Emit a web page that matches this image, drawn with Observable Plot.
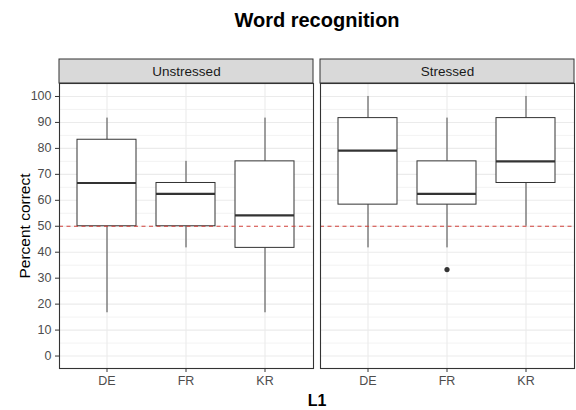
<!DOCTYPE html>
<html>
<head>
<meta charset="utf-8">
<script src="https://cdn.jsdelivr.net/npm/d3@7"></script>
<script src="https://cdn.jsdelivr.net/npm/@observablehq/plot@0.6"></script>
<style>
  html, body { margin: 0; padding: 0; background: #fff; }
  body { width: 576px; height: 410px; overflow: hidden; font-family: "Liberation Sans", Arial, sans-serif; }
  #title { height: 45px; box-sizing: border-box; padding-left: 58px; text-align: center; font-weight: bold; font-size: 20px; line-height: 41px; color: #000; }
  #xlabel { height: 18px; padding-left: 58px; text-align: center; font-weight: bold; font-size: 16px; line-height: 17px; color: #000; }
  svg { display: block; }
</style>
</head>
<body>
<div id="title">Word recognition</div>
<div id="chart"></div>
<div id="xlabel">L1</div>
<script>
// ---- data ----
const conditions = ["Unstressed", "Stressed"];
const groups = ["DE", "FR", "KR"];
const boxCondition = ["Unstressed", "Unstressed", "Unstressed", "Stressed", "Stressed", "Stressed"];
const boxGroup = ["DE", "FR", "KR", "DE", "FR", "KR"];
const lowerWhisker = [16.67, 41.67, 16.67, 41.67, 41.67, 50];
const q1 = [50, 50, 41.67, 58.33, 58.33, 66.67];
const median = [66.67, 62.5, 54.17, 79.17, 62.5, 75];
const q3 = [83.33, 66.67, 75, 91.67, 75, 91.67];
const upperWhisker = [91.67, 75, 91.67, 100, 91.67, 100];
const outlierCondition = ["Stressed"];
const outlierGroup = ["FR"];
const outlierValue = [33.33];
const chanceLevel = [50];
const yTicks = [0, 10, 20, 30, 40, 50, 60, 70, 80, 90, 100];
const yMinorTicks = [5, 15, 25, 35, 45, 55, 65, 75, 85, 95];

const boxes = boxGroup.map((g, i) => ({
  cond: boxCondition[i], L1: g,
  lo: lowerWhisker[i], q1: q1[i], med: median[i], q3: q3[i], hi: upperWhisker[i]
}));
const outliers = outlierGroup.map((g, i) => ({cond: outlierCondition[i], L1: g, v: outlierValue[i]}));

const W = 576, H = 347;
const mTop = 38, mBottom = 24, mLeft = 58, mRight = 1;
const frameH = H - mTop - mBottom;
const stripH = 24;
const ink = "#333333";

const chart = Plot.plot({
  width: W, height: H,
  marginTop: mTop, marginBottom: mBottom, marginLeft: mLeft, marginRight: mRight,
  style: {fontFamily: "'Liberation Sans', Arial, sans-serif", background: "#fff"},
  fx: {domain: conditions, paddingInner: 0.025, paddingOuter: 0, axis: null},
  x: {domain: groups, paddingInner: 0.25, paddingOuter: 0.225, align: 0.5},
  y: {domain: [-4.8, 105]},
  marks: [
    // minor and major grid
    Plot.ruleY(yMinorTicks, {stroke: "#ebebeb", strokeWidth: 0.6}),
    Plot.gridY(yTicks, {stroke: "#ebebeb", strokeOpacity: 1, strokeWidth: 1.1}),
    Plot.gridX(groups, {stroke: "#ebebeb", strokeOpacity: 1, strokeWidth: 1.1}),
    // strip background
    Plot.rect(conditions, {fx: d => d, fill: "#d9d9d9", stroke: ink, strokeWidth: 1, insetTop: -stripH, insetBottom: frameH}),
    Plot.text(conditions, {fx: d => d, text: d => d, frameAnchor: "top", dy: -stripH / 2, lineAnchor: "middle", fontSize: 13.5, fill: "#1a1a1a"}),
    // whiskers
    Plot.ruleX(boxes, {fx: "cond", x: "L1", y1: "lo", y2: "q1", stroke: ink, strokeWidth: 0.9}),
    Plot.ruleX(boxes, {fx: "cond", x: "L1", y1: "q3", y2: "hi", stroke: ink, strokeWidth: 0.9}),
    // box
    Plot.barY(boxes, {fx: "cond", x: "L1", y1: "q1", y2: "q3", fill: "white", stroke: ink, strokeWidth: 1}),
    // median
    Plot.tickY(boxes, {fx: "cond", x: "L1", y: "med", stroke: ink, strokeWidth: 2.2}),
    // outliers
    Plot.dot(outliers, {fx: "cond", x: "L1", y: "v", r: 2.6, fill: ink, stroke: "none"}),
    // chance line (drawn over the boxes)
    Plot.ruleY(chanceLevel, {stroke: "#d1403a", strokeWidth: 1.1, strokeDasharray: "4,3.5"}),
    // panel border
    Plot.frame({stroke: ink, strokeWidth: 1.1}),
    // axes
    Plot.axisY(yTicks, {tickSize: 4, tickPadding: 4, fontSize: 12.5, color: "#4d4d4d", stroke: ink, label: null}),
    Plot.axisY([], {label: "Percent correct", labelAnchor: "center", labelArrow: "none", labelOffset: 41, fontSize: 15.5, color: "#000", tickSize: 0}),
    Plot.axisX({tickSize: 4, tickPadding: 4, fontSize: 12.5, color: "#4d4d4d", stroke: ink, label: null})
  ]
});
document.getElementById("chart").appendChild(chart);
</script>
</body>
</html>
